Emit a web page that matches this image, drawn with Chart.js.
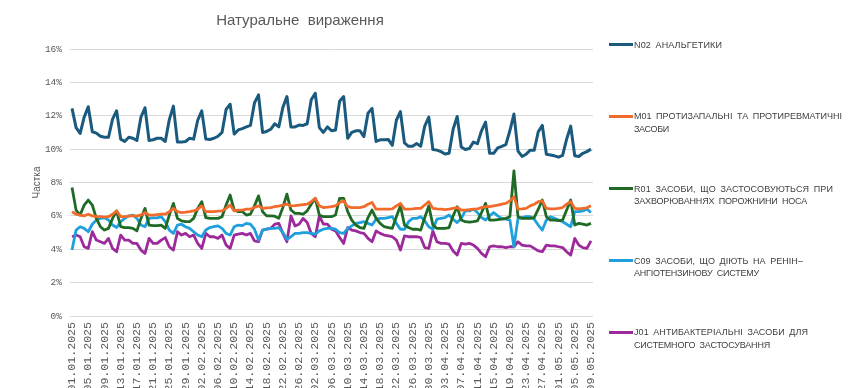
<!DOCTYPE html>
<html>
<head>
<meta charset="utf-8">
<script src="https://cdn.jsdelivr.net/npm/chart.js@4.4.1/dist/chart.umd.min.js"></script>
<style>
html,body{margin:0;padding:0;width:850px;height:388px;overflow:hidden;background:#fff;}
#wrap{position:relative;width:850px;height:388px;overflow:hidden;}
#c{position:absolute;left:0;top:0;}
.sw{position:absolute;left:609px;width:24px;height:3px;}
.ln{position:absolute;left:634px;white-space:nowrap;font-family:'Liberation Sans',Arial,sans-serif;font-size:9px;line-height:12px;color:#404040;word-spacing:2px;}
</style>
</head>
<body>
<div id="wrap">
<canvas id="c" width="850" height="400"></canvas>
<div id="legend"></div>
</div>
<script>
const dates = [
"01.01.2025","02.01.2025","03.01.2025","04.01.2025","05.01.2025","06.01.2025","07.01.2025","08.01.2025","09.01.2025","10.01.2025",
"11.01.2025","12.01.2025","13.01.2025","14.01.2025","15.01.2025","16.01.2025","17.01.2025","18.01.2025","19.01.2025","20.01.2025",
"21.01.2025","22.01.2025","23.01.2025","24.01.2025","25.01.2025","26.01.2025","27.01.2025","28.01.2025","29.01.2025","30.01.2025",
"31.01.2025","01.02.2025","02.02.2025","03.02.2025","04.02.2025","05.02.2025","06.02.2025","07.02.2025","08.02.2025","09.02.2025",
"10.02.2025","11.02.2025","12.02.2025","13.02.2025","14.02.2025","15.02.2025","16.02.2025","17.02.2025","18.02.2025","19.02.2025",
"20.02.2025","21.02.2025","22.02.2025","23.02.2025","24.02.2025","25.02.2025","26.02.2025","27.02.2025","28.02.2025","01.03.2025",
"02.03.2025","03.03.2025","04.03.2025","05.03.2025","06.03.2025","07.03.2025","08.03.2025","09.03.2025","10.03.2025","11.03.2025",
"12.03.2025","13.03.2025","14.03.2025","15.03.2025","16.03.2025","17.03.2025","18.03.2025","19.03.2025","20.03.2025","21.03.2025",
"22.03.2025","23.03.2025","24.03.2025","25.03.2025","26.03.2025","27.03.2025","28.03.2025","29.03.2025","30.03.2025","31.03.2025",
"01.04.2025","02.04.2025","03.04.2025","04.04.2025","05.04.2025","06.04.2025","07.04.2025","08.04.2025","09.04.2025","10.04.2025",
"11.04.2025","12.04.2025","13.04.2025","14.04.2025","15.04.2025","16.04.2025","17.04.2025","18.04.2025","19.04.2025","20.04.2025",
"21.04.2025","22.04.2025","23.04.2025","24.04.2025","25.04.2025","26.04.2025","27.04.2025","28.04.2025","29.04.2025","30.04.2025",
"01.05.2025","02.05.2025","03.05.2025","04.05.2025","05.05.2025","06.05.2025","07.05.2025","08.05.2025","09.05.2025"
];

const n02 = [12.44,11.29,10.94,11.92,12.54,
11.04,10.96,10.77,10.71,10.71,11.80,12.30,
10.60,10.46,10.71,10.65,10.52,11.92,12.48,
10.52,10.56,10.65,10.65,10.46,11.77,12.58,
10.42,10.42,10.46,10.65,10.60,11.73,12.29,
10.60,10.58,10.65,10.77,11.00,12.38,12.69,
10.90,11.15,11.23,11.33,11.42,12.77,13.25,
11.00,11.06,11.19,11.52,11.33,12.50,13.15,
11.33,11.33,11.44,11.42,11.52,12.96,13.35,
11.29,11.00,11.33,11.10,11.15,12.87,13.15,
10.65,11.00,11.10,11.10,10.75,12.15,12.44,
10.46,10.56,10.56,10.58,10.23,11.73,12.25,
10.37,10.17,10.17,10.33,10.17,11.38,11.92,
9.98,9.94,9.85,9.71,9.75,11.19,11.96,
10.13,9.98,10.04,10.42,10.33,11.10,11.62,
9.75,9.75,10.08,10.17,10.27,11.10,12.10,
9.88,9.56,9.69,9.94,9.94,11.04,11.42,
9.69,9.65,9.60,9.52,9.62,10.60,11.38,
9.60,9.56,9.75,9.85,10.00];

const m01 = [6.25,6.10,6.05,6.00,6.10,
6.00,5.95,5.95,5.92,5.95,6.10,6.30,
5.95,5.95,5.98,6.00,6.00,6.05,6.20,
6.05,6.05,6.08,6.10,6.10,6.25,6.45,
6.25,6.20,6.22,6.25,6.30,6.40,6.60,
6.25,6.25,6.25,6.28,6.30,6.45,6.65,
6.30,6.35,6.35,6.40,6.40,6.50,6.60,
6.45,6.48,6.50,6.55,6.58,6.65,6.70,
6.60,6.62,6.65,6.68,6.70,6.85,7.05,
6.60,6.50,6.52,6.55,6.60,6.80,6.90,
6.55,6.50,6.50,6.50,6.55,6.70,6.80,
6.40,6.40,6.40,6.40,6.42,6.60,6.75,
6.40,6.40,6.42,6.45,6.45,6.65,6.85,
6.45,6.42,6.40,6.38,6.40,6.45,6.50,
6.35,6.35,6.38,6.40,6.42,6.50,6.55,
6.55,6.60,6.65,6.70,6.75,6.90,7.15,
6.40,6.42,6.45,6.60,6.70,6.85,6.90,
6.45,6.42,6.42,6.45,6.50,6.70,6.85,
6.45,6.42,6.45,6.48,6.60];

const r01 = [7.70,6.35,6.05,6.65,6.95,
6.65,5.85,5.35,5.15,5.25,5.85,6.30,
5.35,5.30,5.30,5.25,5.10,5.85,6.45,
5.45,5.42,5.42,5.45,5.25,6.05,6.75,
5.85,5.70,5.65,5.65,5.85,6.45,6.85,
5.90,5.85,5.85,5.85,5.95,6.65,7.25,
6.35,6.25,6.25,6.05,6.10,6.60,7.20,
6.25,6.00,6.00,5.98,5.85,6.50,7.30,
6.35,6.15,6.15,6.10,6.30,6.70,7.05,
6.05,5.95,5.95,5.95,6.05,7.05,7.05,
6.25,5.75,5.45,5.30,5.25,5.90,6.35,
5.85,5.55,5.35,5.30,5.25,5.95,6.60,
5.45,5.30,5.20,5.20,5.15,5.90,6.60,
5.45,5.25,5.25,5.25,5.30,6.00,6.55,
5.75,5.65,5.62,5.65,5.70,6.20,6.75,
5.75,5.75,5.78,5.80,5.85,5.95,8.70,
5.95,5.85,5.85,5.85,5.90,6.40,6.95,
5.95,5.75,5.75,5.72,5.75,6.35,6.95,
5.45,5.55,5.50,5.45,5.55];

const c09 = [3.95,5.15,5.35,5.25,5.05,
5.50,5.75,5.85,5.88,5.75,5.45,5.30,
5.65,5.85,6.00,6.05,5.85,5.45,5.35,
5.85,5.88,5.88,5.95,5.65,5.15,4.95,
5.45,5.50,5.35,5.25,5.05,4.85,4.75,
5.15,5.30,5.35,5.40,5.25,4.95,4.85,
5.35,5.45,5.42,5.55,5.50,5.20,4.55,
5.15,5.20,5.25,5.25,5.30,5.00,4.60,
4.75,4.95,4.95,5.00,5.00,4.95,4.90,
5.10,5.20,5.25,5.25,5.20,5.00,4.95,
5.25,5.40,5.55,5.60,5.65,5.55,5.45,
5.80,5.85,5.85,5.90,5.95,5.55,5.20,
5.20,5.65,5.85,5.85,5.95,5.70,5.35,
5.20,5.80,5.85,5.90,6.05,5.80,5.60,
5.85,6.30,6.30,6.40,6.20,5.90,5.75,
6.00,6.20,6.00,5.85,5.80,5.75,4.15,
5.85,5.90,5.95,5.95,5.80,5.45,5.15,
5.75,5.95,5.85,5.75,5.65,5.50,5.35,
6.25,6.25,6.30,6.40,6.20];

const j01 = [4.75,4.85,4.75,4.15,4.05,
5.05,4.55,4.45,4.35,4.65,4.05,3.85,
4.85,4.55,4.55,4.35,4.35,3.95,3.75,
4.65,4.35,4.35,4.55,4.70,4.15,3.95,
5.05,4.85,4.95,4.75,4.85,4.35,4.05,
4.95,4.75,4.75,4.65,4.85,4.25,4.05,
4.85,4.90,4.95,4.85,4.95,4.50,4.45,
5.15,5.20,5.25,5.50,5.55,4.95,4.45,
6.00,5.40,5.50,5.85,5.60,4.95,4.75,
6.00,5.50,5.50,5.20,5.10,4.70,4.35,
5.30,5.15,5.10,5.00,4.95,4.65,4.45,
5.10,4.95,4.85,4.80,4.75,4.55,3.95,
4.80,4.75,4.75,4.75,4.70,4.10,4.05,
5.10,4.45,4.35,4.35,4.30,3.90,3.65,
4.35,4.30,4.35,4.25,4.05,3.75,3.55,
4.15,4.20,4.15,4.15,4.10,4.15,4.15,
4.45,4.25,4.20,4.20,4.05,3.90,3.85,
4.25,4.20,4.20,4.15,4.10,3.85,3.65,
4.65,4.25,4.10,4.05,4.50];

const yTicks = [0,2,4,6,8,10,12,14,16];
const seriesNames = ["N02", "M01", "R01", "C09", "J01"];
const legendLines = [
  ["N02 АНАЛЬГЕТИКИ"],
  ["M01 ПРОТИЗАПАЛЬНІ ТА ПРОТИРЕВМАТИЧНІ", "ЗАСОБИ"],
  ["R01 ЗАСОБИ, ЩО ЗАСТОСОВУЮТЬСЯ ПРИ", "ЗАХВОРЮВАННЯХ ПОРОЖНИНИ НОСА"],
  ["C09 ЗАСОБИ, ЩО ДІЮТЬ НА РЕНІН–", "АНГІОТЕНЗИНОВУ СИСТЕМУ"],
  ["J01 АНТИБАКТЕРІАЛЬНІ ЗАСОБИ ДЛЯ", "СИСТЕМНОГО ЗАСТОСУВАННЯ"]
];
const titleText = "Натуральне  вираження";
const axisTitle = "Частка";

const colors = ["#1a5a7e", "#f26b2b", "#1f6a24", "#1fa0dc", "#9c2a9b"];
const widths = [3, 2.8, 2.8, 2.8, 2.8];
const values = [n02, m01, r01, c09, j01];

// legend (HTML, real text)
const legY = [44.5, 116, 188.5, 260.5, 332];
const legW = [[88],[208,35],[199,173],[169,125],[174,136]];
const legend = document.getElementById('legend');
legendLines.forEach((lines, k) => {
  const sw = document.createElement('div');
  sw.className = 'sw';
  sw.style.background = colors[k];
  sw.style.top = (legY[k] - 1.5) + 'px';
  legend.appendChild(sw);
  lines.forEach((t, j) => {
    const d = document.createElement('div');
    d.className = 'ln';
    d.textContent = t;
    d.style.top = (legY[k] + j * 12.7 - 6) + 'px';
    legend.appendChild(d);
    const w = d.getBoundingClientRect().width;
    const ls = (legW[k][j] - w) / t.length;
    d.style.letterSpacing = ls.toFixed(2) + 'px';
  });
});

const titlePlugin = {
  id: 'topTitle',
  afterDraw(chart) {
    const ctx = chart.ctx;
    ctx.save();
    ctx.font = '15px "Liberation Sans", Arial, sans-serif';
    ctx.fillStyle = '#595959';
    ctx.textAlign = 'center';
    ctx.textBaseline = 'middle';
    ctx.fillText(titleText, 300, 21);
    ctx.restore();
  }
};

new Chart(document.getElementById('c'), {
  type: 'line',
  data: {
    labels: dates,
    datasets: values.map((v, k) => ({
      label: legendLines[k].join(' '),
      data: v,
      borderColor: colors[k],
      backgroundColor: colors[k],
      borderWidth: widths[k],
      pointRadius: 0,
      tension: 0,
      fill: false,
      borderJoinStyle: 'round'
    }))
  },
  options: {
    responsive: false,
    animation: false,
    devicePixelRatio: 1,
    layout: { padding: { top: 49, right: 257, left: 0, bottom: 0 } },
    plugins: {
      legend: { display: false },
      title: { display: false },
      tooltip: { enabled: false }
    },
    scales: {
      x: {
        offset: true,
        grid: { display: false, drawTicks: false },
        border: { display: false },
        ticks: {
          autoSkip: false,
          maxRotation: 90,
          minRotation: 90,
          padding: 6,
          color: '#595959',
          font: { family: '"Liberation Mono", monospace', size: 11.6 },
          callback: (v, i) => (i % 4 === 0 ? dates[i] : null)
        },
        afterFit: (s) => { s.height = 84; }
      },
      y: {
        min: 0,
        max: 16,
        afterBuildTicks: (s) => { s.ticks = yTicks.map(v => ({ value: v })); },
        grid: { color: '#d9d9d9', lineWidth: 1, drawTicks: false },
        border: { display: false },
        ticks: {
          padding: 8,
          color: '#595959',
          font: { family: '"Liberation Mono", monospace', size: 9.5 },
          callback: (v) => v + '%'
        },
        title: {
          display: true,
          text: axisTitle,
          color: '#595959',
          font: { family: '"Liberation Sans", Arial, sans-serif', size: 10 },
          padding: { top: 31, bottom: 0 }
        },
        afterFit: (s) => { s.width = 70; }
      }
    }
  },
  plugins: [titlePlugin]
});
</script>
</body>
</html>
